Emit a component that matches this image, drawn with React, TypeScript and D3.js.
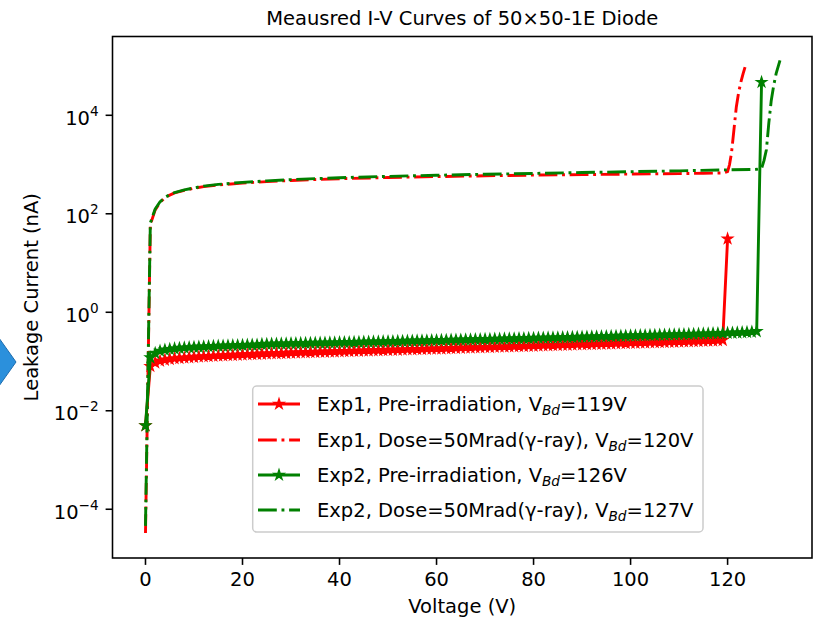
import React from 'react';
import * as d3 from 'd3';

// ---------- DATA ----------
const title = 'Meausred I-V Curves of 50×50-1E Diode';
const xLabel = 'Voltage (V)';
const yLabel = 'Leakage Current (nA)';
const xTicks = [0, 20, 40, 60, 80, 100, 120];
const yTickExps = [-4, -2, 0, 2, 4];

// Exp1 pre-irradiation: current (nA) at 1 V sweep steps starting from 0 V
const exp1PreCurrent = [
  0.005, 0.080, 0.095, 0.103, 0.108, 0.112, 0.115, 0.117, 0.119, 0.121,
  0.123, 0.125, 0.126, 0.128, 0.129, 0.131, 0.132, 0.134, 0.135, 0.136,
  0.138, 0.139, 0.140, 0.141, 0.143, 0.144, 0.145, 0.146, 0.147, 0.148,
  0.150, 0.151, 0.152, 0.153, 0.154, 0.155, 0.156, 0.157, 0.158, 0.159,
  0.160, 0.161, 0.162, 0.163, 0.164, 0.165, 0.166, 0.167, 0.168, 0.169,
  0.170, 0.171, 0.172, 0.173, 0.175, 0.176, 0.177, 0.178, 0.179, 0.181,
  0.182, 0.183, 0.185, 0.186, 0.187, 0.188, 0.190, 0.191, 0.192, 0.193,
  0.195, 0.196, 0.197, 0.199, 0.200, 0.201, 0.203, 0.204, 0.205, 0.207,
  0.208, 0.209, 0.211, 0.212, 0.214, 0.215, 0.216, 0.218, 0.219, 0.221,
  0.222, 0.224, 0.225, 0.227, 0.228, 0.230, 0.231, 0.232, 0.234, 0.235,
  0.237, 0.238, 0.240, 0.241, 0.243, 0.244, 0.246, 0.247, 0.249, 0.250,
  0.252, 0.254, 0.255, 0.257, 0.259, 0.261, 0.263, 0.265, 0.268, 0.272,
  31,
];

// Exp2 pre-irradiation: current (nA) at 1 V sweep steps starting from 0 V
const exp2PreCurrent = [
  0.005, 0.120, 0.148, 0.163, 0.172, 0.178, 0.183, 0.187, 0.190, 0.193,
  0.196, 0.198, 0.200, 0.202, 0.204, 0.206, 0.208, 0.209, 0.211, 0.213,
  0.214, 0.216, 0.217, 0.218, 0.224, 0.225, 0.227, 0.228, 0.229, 0.230,
  0.232, 0.233, 0.234, 0.235, 0.236, 0.237, 0.238, 0.239, 0.240, 0.241,
  0.243, 0.244, 0.245, 0.246, 0.247, 0.249, 0.250, 0.251, 0.252, 0.254,
  0.255, 0.256, 0.258, 0.259, 0.260, 0.262, 0.263, 0.264, 0.266, 0.267,
  0.268, 0.270, 0.271, 0.273, 0.274, 0.275, 0.277, 0.278, 0.280, 0.281,
  0.283, 0.284, 0.286, 0.287, 0.289, 0.290, 0.292, 0.293, 0.295, 0.296,
  0.298, 0.300, 0.301, 0.303, 0.304, 0.306, 0.308, 0.309, 0.311, 0.313,
  0.314, 0.316, 0.318, 0.320, 0.321, 0.323, 0.325, 0.327, 0.329, 0.331,
  0.333, 0.335, 0.337, 0.339, 0.341, 0.343, 0.345, 0.347, 0.349, 0.351,
  0.353, 0.355, 0.358, 0.360, 0.362, 0.365, 0.367, 0.370, 0.372, 0.375,
  0.378, 0.381, 0.384, 0.388, 0.392, 0.397, 0.410, 47000,
];

// Exp1 after dose (voltage, current)
const exp1DoseVoltage = [0, 1, 2, 3, 4, 5, 6, 8, 10, 12, 15, 20, 25, 30, 40, 50, 60, 70, 80, 90, 100, 110, 115, 119, 120, 120.4, 120.8, 121.3, 121.8, 122.3, 122.8, 123.2, 123.6];
const exp1DoseCurrent = [3.3e-5, 60, 120, 170, 210, 240, 265, 300, 330, 355, 385, 420, 450, 475, 515, 545, 570, 590, 610, 625, 640, 655, 665, 675, 720, 1000, 1700, 5000, 14800, 30000, 50000, 70000, 95000];

// Exp2 after dose (voltage, current)
const exp2DoseVoltage = [0, 1, 2, 3, 4, 5, 6, 8, 10, 12, 15, 20, 25, 30, 40, 50, 60, 70, 80, 90, 100, 110, 120, 126, 127, 127.5, 128, 128.5, 129, 129.5, 130, 130.8];
const exp2DoseCurrent = [4.6e-5, 65, 125, 175, 215, 245, 270, 305, 335, 365, 395, 435, 465, 495, 540, 575, 605, 635, 660, 690, 715, 745, 780, 800, 830, 1200, 2000, 7000, 20000, 40000, 70000, 130000];

const legendLabels = [
  { pre: 'Exp1, Pre-irradiation, V', post: '=119V' },
  { pre: 'Exp1, Dose=50Mrad(γ-ray), V', post: '=120V' },
  { pre: 'Exp2, Pre-irradiation, V', post: '=126V' },
  { pre: 'Exp2, Dose=50Mrad(γ-ray), V', post: '=127V' },
];

// ---------- LAYOUT ----------
const W = 820;
const H = 621;
const AX = { left: 112.5, right: 812, top: 36.5, bottom: 558 };
const FS = 19.5;
const FONT = 'DejaVu Sans';
const RED = '#ff0000';
const GREEN = '#008000';
const LW = 2.9;
const DASHDOT = '18.8,4.7,2.9,4.7';
const STAR_R = 5.2;
const STAR_SW = 1.4;

function starPath(r: number) {
  const ri = r * 0.381966;
  const pts: string[] = [];
  for (let k = 0; k < 10; k++) {
    const a = -Math.PI / 2 + (k * Math.PI) / 5;
    const rr = k % 2 === 0 ? r : ri;
    pts.push(`${(rr * Math.cos(a)).toFixed(3)},${(rr * Math.sin(a)).toFixed(3)}`);
  }
  return 'M' + pts.join('L') + 'Z';
}

export default function App() {
  const x = d3.scaleLinear().domain([-6.8, 137.4]).range([AX.left, AX.right]);
  const y = d3.scaleLog().domain([Math.pow(10, -4.99), Math.pow(10, 5.6)]).range([AX.bottom, AX.top]);
  const line = d3
    .line<[number, number]>()
    .x((d) => x(d[0]))
    .y((d) => y(d[1]));

  const exp1Pre: [number, number][] = exp1PreCurrent.map((c, i) => [i, c]);
  const exp2Pre: [number, number][] = exp2PreCurrent.map((c, i) => [i, c]);
  const exp1Dose: [number, number][] = exp1DoseVoltage.map((v, i) => [v, exp1DoseCurrent[i]]);
  const exp2Dose: [number, number][] = exp2DoseVoltage.map((v, i) => [v, exp2DoseCurrent[i]]);

  const star = starPath(STAR_R);

  const series = [
    { data: exp1Pre, color: RED, dash: null as string | null, marker: true },
    { data: exp1Dose, color: RED, dash: DASHDOT, marker: false },
    { data: exp2Pre, color: GREEN, dash: null as string | null, marker: true },
    { data: exp2Dose, color: GREEN, dash: DASHDOT, marker: false },
  ];

  const legendBox = { x: 252.7, y: 386, w: 450.3, h: 146 };
  const rowY = [404, 440, 475, 510];
  const handleX0 = 258;
  const handleX1 = 300;
  const textX = 317;

  return (
    <svg
      width={W}
      height={H}
      style={{ position: 'absolute', left: 0, top: 0, background: '#fff' }}
      fontFamily={FONT}
    >
      <rect x={0} y={0} width={W} height={H} fill="#ffffff" />
      {/* decorative blue arrow at left edge */}
      <polygon points="-1,338 16,362 -1,386" fill="#2b90dc" stroke="#1c6cae" strokeWidth={1} />

      {/* title */}
      <text x={(AX.left + AX.right) / 2} y={25} textAnchor="middle" fontSize={FS} fill="#000">
        {title}
      </text>

      {/* series */}
      {series.map((s, i) => (
        <g key={i}>
          <path
            d={line(s.data) || ''}
            fill="none"
            stroke={s.color}
            strokeWidth={LW}
            strokeDasharray={s.dash || undefined}
            strokeLinejoin="round"
            strokeLinecap={s.dash ? 'butt' : 'square'}
          />
          {s.marker &&
            s.data.map((d, j) => (
              <path
                key={j}
                d={star}
                transform={`translate(${x(d[0])},${y(d[1])})`}
                fill={s.color}
                stroke={s.color}
                strokeWidth={STAR_SW}
                strokeLinejoin="miter"
              />
            ))}
        </g>
      ))}

      {/* axes frame */}
      <rect
        x={AX.left}
        y={AX.top}
        width={AX.right - AX.left}
        height={AX.bottom - AX.top}
        fill="none"
        stroke="#000"
        strokeWidth={1.57}
      />

      {/* x ticks */}
      {xTicks.map((t) => (
        <g key={t} transform={`translate(${x(t)},0)`}>
          <line y1={AX.bottom} y2={AX.bottom + 6.9} stroke="#000" strokeWidth={1.57} />
          <text y={AX.bottom + 28} textAnchor="middle" fontSize={FS} fill="#000">
            {t}
          </text>
        </g>
      ))}

      {/* y ticks */}
      {yTickExps.map((e) => {
        const yy = y(Math.pow(10, e));
        return (
          <g key={e} transform={`translate(0,${yy})`}>
            <line x1={AX.left - 6.9} x2={AX.left} stroke="#000" strokeWidth={1.57} />
            <text x={AX.left - 13.8} y={9.5} textAnchor="end" fontSize={FS} fill="#000">
              10
              <tspan fontSize={FS * 0.7} dy={-9}>
                {e < 0 ? '\u2212' + Math.abs(e) : String(e)}
              </tspan>
            </text>
          </g>
        );
      })}

      {/* axis labels */}
      <text x={(AX.left + AX.right) / 2} y={613} textAnchor="middle" fontSize={FS} fill="#000">
        {xLabel}
      </text>
      <text
        transform={`translate(38,${(AX.top + AX.bottom) / 2}) rotate(-90)`}
        textAnchor="middle"
        fontSize={FS}
        fill="#000"
      >
        {yLabel}
      </text>

      {/* legend */}
      <rect
        x={legendBox.x}
        y={legendBox.y}
        width={legendBox.w}
        height={legendBox.h}
        rx={4}
        ry={4}
        fill="#ffffff"
        fillOpacity={0.8}
        stroke="#cccccc"
        strokeWidth={1.5}
      />
      {legendLabels.map((lab, i) => {
        const s = series[i];
        const cy = rowY[i];
        return (
          <g key={i}>
            <line
              x1={handleX0}
              x2={handleX1}
              y1={cy}
              y2={cy}
              stroke={s.color}
              strokeWidth={LW}
              strokeDasharray={s.dash || undefined}
            />
            {s.marker && (
              <path
                d={star}
                transform={`translate(${(handleX0 + handleX1) / 2},${cy})`}
                fill={s.color}
                stroke={s.color}
                strokeWidth={STAR_SW}
              />
            )}
            <text x={textX} y={cy + 7} fontSize={FS} fill="#000">
              {lab.pre}
              <tspan fontSize={FS * 0.7} fontStyle="italic" dy={4}>
                Bd
              </tspan>
              <tspan dy={-4}>{lab.post}</tspan>
            </text>
          </g>
        );
      })}
    </svg>
  );
}
